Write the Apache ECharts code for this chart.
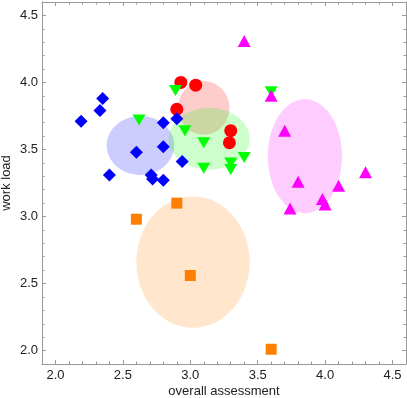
<!DOCTYPE html>
<html lang="en">
<head>
    <meta charset="UTF-8">
    <title>work load vs overall assessment</title>
    <style>
        html, body { margin: 0; padding: 0; background: #fff; }
        #main { width: 407px; height: 398px; }
    </style>
    <script src="https://cdn.jsdelivr.net/npm/echarts@6/dist/echarts.min.js"></script>
</head>
<body>
<div id="main"></div>
<script>
    // points: [overall assessment, work load]
    const blueDiamonds = [
        [2.19, 3.71], [2.35, 3.88], [2.33, 3.79], [2.40, 3.31], [2.60, 3.48],
        [2.80, 3.70], [2.80, 3.52], [2.71, 3.31], [2.72, 3.28], [2.80, 3.27],
        [2.90, 3.73], [2.94, 3.41]
    ]
    const redCircles = [[2.93, 4.00], [3.04, 3.98], [2.90, 3.80], [3.30, 3.64], [3.29, 3.55]]
    const greenTriangles = [
        [2.89, 3.94], [2.62, 3.72], [2.96, 3.64], [3.10, 3.55], [3.10, 3.36],
        [3.30, 3.40], [3.30, 3.35], [3.40, 3.44], [3.60, 3.93]
    ]
    const magentaTriangles = [
        [3.40, 4.31], [3.60, 3.90], [3.70, 3.64], [3.80, 3.26], [4.10, 3.23],
        [3.98, 3.13], [4.00, 3.09], [3.74, 3.06], [4.30, 3.33]
    ]
    const orangeSquares = [[2.60, 2.98], [2.90, 3.10], [3.00, 2.56], [3.60, 2.01]]

    // ellipses: [centre x, centre y, radius x, radius y]
    const orangeEllipse = [3.02, 2.66, 0.42, 0.49]
    const blueEllipse = [2.63, 3.53, 0.25, 0.22]
    const magentaEllipse = [3.85, 3.45, 0.275, 0.425]
    const redEllipse = [3.10, 3.81, 0.19, 0.20]
    const greenEllipse = [3.14, 3.58, 0.30, 0.23]

    const axisTicks = [2.0, 2.5, 3.0, 3.5, 4.0, 4.5]

    const chart = echarts.init(document.getElementById('main'))

    const textColor = '#222'
    const frameColor = '#999'
    const font = 'Liberation Sans, Arial, Helvetica, sans-serif'

    function axis(pos, labelled, name) {
        return {
            type: 'value',
            position: pos,
            min: 1.9,
            max: 4.6,
            splitNumber: 5,
            name: name,
            nameLocation: 'middle',
            nameGap: pos === 'bottom' ? 21 : 29,
            nameMoveOverlap: false,
            nameTextStyle: { color: textColor, fontSize: 13, fontFamily: font },
            axisLine: { show: true, onZero: false, lineStyle: { color: frameColor, width: 1 } },
            axisTick: {
                show: true, inside: true, length: 4,
                customValues: axisTicks,
                lineStyle: { color: frameColor }
            },
            minorTick: { show: true, splitNumber: 5, length: 2.5, lineStyle: { color: frameColor } },
            splitLine: { show: false },
            axisLabel: {
                show: labelled,
                margin: pos === 'bottom' ? 5 : 4,
                color: textColor,
                fontSize: 13,
                fontFamily: font,
                customValues: axisTicks,
                formatter: v => v.toFixed(1)
            }
        }
    }

    function ellipseSeries(e, color) {
        return {
            type: 'custom',
            xAxisIndex: 0,
            yAxisIndex: 0,
            silent: true,
            z: 1,
            data: [e],
            renderItem: (params, api) => {
                const c = api.coord([api.value(0), api.value(1)])
                const s = api.size([api.value(2), api.value(3)])
                const pts = []
                for (let i = 0; i < 90; i++) {
                    const a = i / 90 * Math.PI * 2
                    pts.push([c[0] + s[0] * Math.cos(a), c[1] + s[1] * Math.sin(a)])
                }
                return {
                    type: 'polygon',
                    shape: { points: pts },
                    style: { fill: color, stroke: null }
                }
            }
        }
    }

    function scatter(data, symbol, size, color, rotate) {
        return {
            type: 'scatter',
            xAxisIndex: 0,
            yAxisIndex: 0,
            z: 5,
            data: data,
            symbol: symbol,
            symbolSize: size,
            symbolRotate: rotate || 0,
            itemStyle: { color: color, opacity: 1 },
            emphasis: { disabled: true }
        }
    }

    const option = {
        animation: false,
        backgroundColor: '#fff',
        grid: { left: 42, right: 1, top: 2, bottom: 34, containLabel: false, outerBoundsMode: 'none' },
        xAxis: [
            axis('bottom', true, 'overall assessment'),
            axis('top', false, '')
        ],
        yAxis: [
            axis('left', true, 'work load'),
            axis('right', false, '')
        ],
        series: [
            ellipseSeries(orangeEllipse, 'rgba(255,128,0,0.2)'),
            ellipseSeries(blueEllipse, 'rgba(0,0,255,0.2)'),
            ellipseSeries(magentaEllipse, 'rgba(255,0,255,0.2)'),
            ellipseSeries(redEllipse, 'rgba(255,0,0,0.2)'),
            ellipseSeries(greenEllipse, 'rgba(0,255,0,0.2)'),
            scatter(orangeSquares, 'rect', 11, '#ff8000'),
            scatter(redCircles, 'circle', 13, '#ff0000'),
            scatter(greenTriangles, 'triangle', [13, 11], '#00ff00', 180),
            scatter(blueDiamonds, 'diamond', [13, 13], '#0000ff'),
            scatter(magentaTriangles, 'triangle', [13, 12], '#ff00ff')
        ]
    }
    chart.setOption(option)
</script>
</body>
</html>
